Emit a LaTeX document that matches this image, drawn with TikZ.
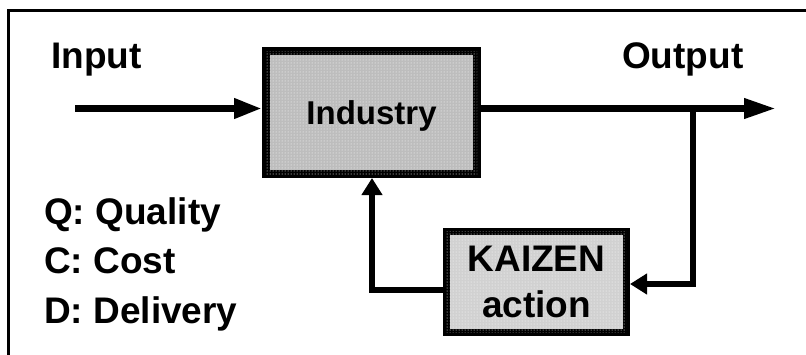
\documentclass[tikz,border=0pt]{standalone}
\usepackage{fontspec}
\setmainfont{Liberation Sans}
\usetikzlibrary{arrows.meta,patterns}
\definecolor{boxdark}{gray}{0.74}
\definecolor{boxlight}{gray}{0.82}
\tikzset{
  label text/.style={font=\bfseries\fontsize{37}{46}\selectfont, inner sep=0pt},
  block/.style={draw=black, line width=8pt, inner sep=0pt,
                postaction={pattern=dots, pattern color=white}},
  flow/.style={line width=6.8pt, line join=miter},
  in tip/.style={-{Triangle[length=28pt,width=19pt]}},
  out tip/.style={-{Triangle[length=32pt,width=19pt]}},
  fb tip/.style={-{Triangle[length=17pt,width=20pt]}},
}
\begin{document}
\begin{tikzpicture}[x=1pt,y=-1pt]
  \useasboundingbox (0,0) rectangle (806,354);
  \clip (0,0) rectangle (806,354);

  % outer frame, open towards right and bottom
  \draw[line width=2.6pt] (8.5,360) -- (8.5,10.5) -- (820,10.5);

  % process blocks
  \node[block, fill=boxdark, minimum width=211pt, minimum height=123pt,
        font=\bfseries\fontsize{33}{40}\selectfont, text depth=0pt]
        (industry) at (371.5,112.5) {Industry};
  \node[block, line width=7pt, fill=boxlight, minimum width=180pt, minimum height=101pt,
        font=\bfseries\fontsize{37}{46}\selectfont, align=center]
        (kaizen) at (536.5,282) {KAIZEN\\action};

  % labels
  \node[label text, anchor=base west] (input) at (51,68) {Input};
  \node[label text, anchor=base west] (output) at (622,68) {Output};
  \node[label text, anchor=base west] (q) at (44,224) {Q: Quality};
  \node[label text, anchor=base west] (c) at (44,273.5) {C: Cost};
  \node[label text, anchor=base west] (d) at (44,323) {D: Delivery};

  % connector points
  \coordinate (inStart) at (75,108.5);
  \coordinate (outEnd) at (776,108.5);
  \coordinate (split) at (693,108.5);
  \coordinate (fbR) at (693,284);
  \coordinate (fbL) at (372,290);

  % main flow
  \draw[flow, in tip] (inStart) -- (inStart -| industry.west);
  \draw[flow, out tip] (industry.east |- inStart) -- (outEnd);

  % improvement loop
  \draw[flow, fb tip] (split) -- (fbR) -- (fbR -| kaizen.east);
  \draw[flow, fb tip] (kaizen.west |- fbL) -- (fbL) -- (fbL |- industry.south);
\end{tikzpicture}
\end{document}
